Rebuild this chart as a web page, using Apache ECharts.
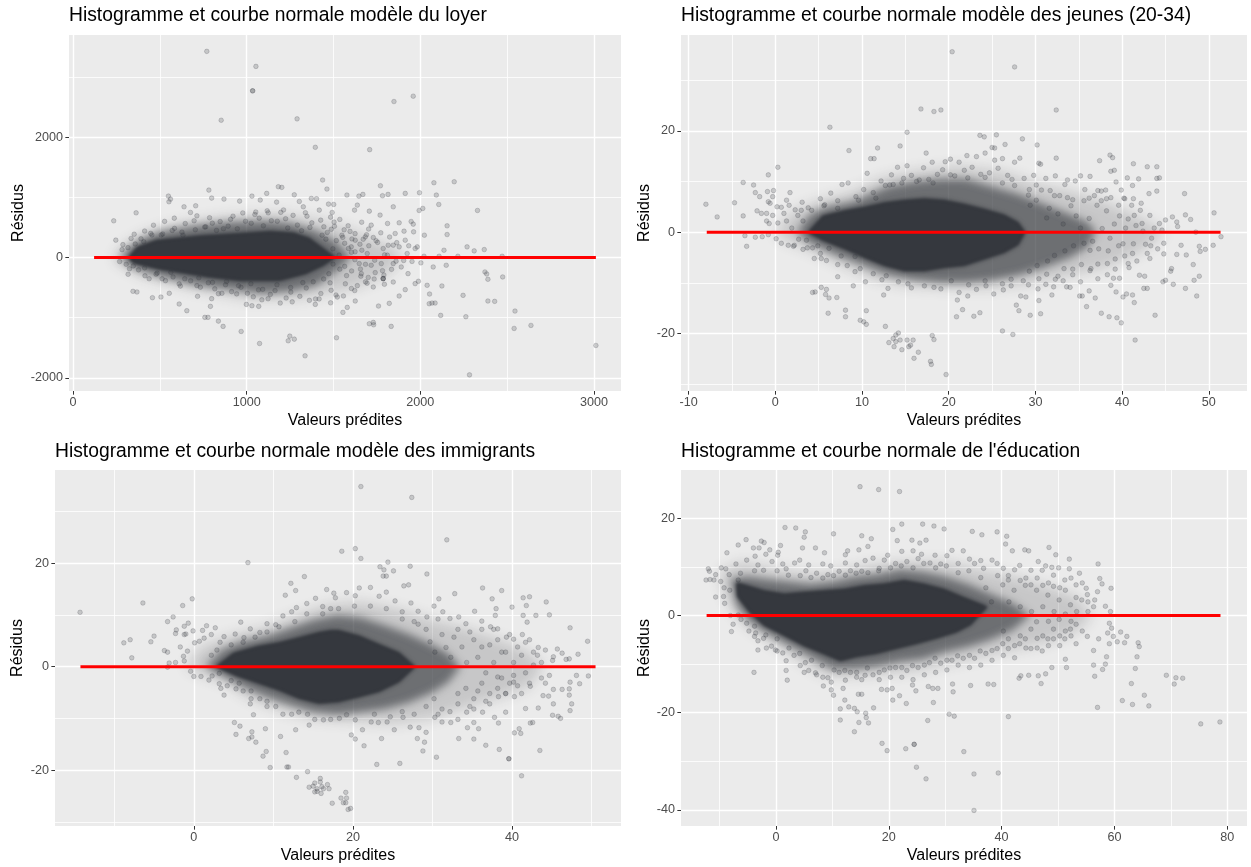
<!DOCTYPE html>
<html><head><meta charset="utf-8">
<script src="https://cdn.jsdelivr.net/npm/echarts@6/dist/echarts.min.js"></script>
<style>html,body{margin:0;padding:0;background:#fff}#c{width:1251px;height:867px}</style>
</head><body><div id="c"></div>
<script>
// Valeurs : [prédite, résidu]
const titres = ["Histogramme et courbe normale modèle du loyer","Histogramme et courbe normale modèle des jeunes (20-34)","Histogramme et courbe normale modèle des immigrants","Histogramme et courbe normale de l'éducation"];
const etiquetteX = "Valeurs prédites";
const etiquetteY = "Résidus";

const majeursX1=[0,1000,2000,3000], mineursX1=[500,1500,2500], majeursY1=[-2000,0,2000], mineursY1=[-1000,1000,3000];
const majeursX2=[-10,0,10,20,30,40,50], mineursX2=[-5,5,15,25,35,45], majeursY2=[-20,0,20], mineursY2=[-30,-10,10,30];
const majeursX3=[0,20,40], mineursX3=[-10,10,30,50], majeursY3=[-20,0,20], mineursY3=[-30,-10,10,30];
const majeursX4=[0,20,40,60,80], mineursX4=[-10,10,30,50,70], majeursY4=[-40,-20,0,20], mineursY4=[-30,-10,10];

const zero1=[121,3011], zero2=[-7.9,51.35], zero3=[-14.25,50.5], zero4=[-12.3,78.8];

const coeur1=[[320,0],[370,170],[480,285],[729,360],[959,400],[1135,435],[1270,410],[1360,320],[1440,150],[1510,0],[1440,-130],[1340,-270],[1189,-380],[959,-380],[775,-320],[499,-190],[350,-90]];
const dense1=[[270,0],[330,190],[400,320],[500,430],[700,530],[900,590],[1100,610],[1250,570],[1400,440],[1520,250],[1600,0],[1520,-220],[1400,-460],[1250,-560],[1100,-600],[900,-530],[700,-450],[500,-320],[350,-180]];
const diffus1=[[230,0],[300,200],[400,380],[600,560],[900,680],[1200,720],[1450,600],[1650,400],[1850,150],[1900,0],[1800,-300],[1600,-520],[1300,-680],[1000,-680],[700,-520],[400,-300],[280,-120]];
const points1=[[770,3428],[1053,3178],[1034,2772],[1034,2772],[853,2283],[1290,2306],[1848,2594],[1959,2683],[1395,1833],[1708,1794],[1437,1289],[2078,1244],[2195,1261],[1770,1194],[1182,1178],[1202,1167],[1462,1139],[782,1122],[1913,1067],[1995,1078],[2092,1039],[1814,1050],[1782,1028],[1115,1067],[1274,1044],[549,1022],[561,972],[552,928],[798,989],[869,972],[959,939],[1030,1022],[1078,956],[1372,983],[1402,978],[1577,1039],[1646,1022],[1669,1050],[2106,883],[1993,783],[2014,817],[2329,783],[1844,844],[639,844],[706,861],[676,750],[363,744],[234,611],[1172,922],[1303,933],[1326,844],[1471,889],[1501,883],[1637,872],[1621,789],[1706,772],[1768,706],[1492,750],[1418,789],[2154,528],[2154,383],[1947,600],[1878,578],[1959,556],[1811,567],[1717,539],[2023,372],[2269,178],[2310,111],[2368,133],[2136,122],[1982,178],[2471,22],[2216,22],[2108,22],[2021,22],[2149,-128],[2074,-156],[2372,-239],[2382,-272],[2389,-361],[2474,-322],[2246,-628],[2124,-472],[2039,-461],[2053,-606],[2051,-767],[2067,-756],[2085,-756],[2389,-722],[2428,-728],[2545,-889],[2117,-961],[2262,-983],[2637,-1128],[2540,-1178],[3011,-1461],[2283,-1950],[1336,-1633],[1517,-1333],[1274,-1356],[1248,-1306],[1239,-1383],[1074,-1428],[968,-1228],[864,-1144],[837,-1056],[759,-994],[777,-994],[655,-883],[611,-772],[457,-667],[506,-656],[554,-594],[368,-572],[345,-561],[317,-278],[791,-811],[798,-683],[837,-600],[717,-644],[998,-778],[1030,-800],[1069,-811],[1706,-1100],[1729,-1078],[1731,-1117],[1832,-1144],[1821,-761],[1759,-806],[1554,-911],[1579,-828],[1522,-656],[1625,-722],[1193,-756],[1395,-778],[1361,-711],[1878,-639],[1913,-533],[1729,-489],[1793,-444],[1970,-433],[1989,-394],[1929,-267],[1844,-406],[1637,-467],[1648,-100],[1683,344],[1729,333],[1625,289],[1786,150],[1844,206],[1878,178],[1924,67],[1970,150],[1913,289],[1906,439],[1961,428],[1855,400],[1602,178],[1694,67],[1775,-100],[1844,-100],[1890,-156],[1717,-128],[1660,-267],[1786,-350],[1786,-350],[1786,-350],
[246,290],[287,215],[334,318],[352,388],[391,312],[412,441],[447,403],[463,538],[508,376],[527,602],[571,451],[583,655],[627,423],[646,566],[697,612],[713,694],[758,508],[786,662],[802,572],[847,598],[866,480],[907,636],[921,688],[977,742],[993,604],[1047,716],[1072,655],[1118,778],[1142,612],[1196,752],[1224,646],[1267,702],[1292,540],[1347,688],[1375,578],[1426,622],[1444,512],[1487,470],[1503,590],[1548,372],[1561,462],[1606,310],[1624,398],[1652,222],[1671,305],
[268,-66],[306,-112],[325,-186],[377,-204],[414,-302],[478,-276],[513,-352],[576,-322],[611,-438],[677,-386],[713,-466],[779,-418],[816,-520],[878,-452],[913,-566],[967,-494],[1004,-594],[1068,-536],[1087,-702],[1136,-612],[1163,-548],[1227,-672],[1254,-574],[1306,-644],[1343,-506],[1396,-688],[1427,-598],[1486,-544],[1514,-622],[1568,-436],[1603,-514],[1657,-310],[1684,-404],
[282,132],[316,165],[358,226],[407,262],[454,376],[516,392],[584,486],[633,372],[704,462],[764,512],[826,452],[893,522],[946,478],[1026,570],[1096,528],[1176,604],[1236,492],[1316,446],[1364,502],[1434,372],[1464,418],[1516,282],[1553,336],[1586,152],[1624,96],[1564,238],[1496,146],[1456,306],[1532,42],[1603,88],[1663,122],[1703,196],[1754,252],[1794,46],[1737,-44],[1684,-112],[1623,-36],[1564,-146],[1497,-108],[1473,-268],[1536,-192],[1604,-222],[1443,-356],[1383,-402],[1323,-416],[1253,-498],[1174,-452],[1092,-528],[1024,-434],[953,-468],[884,-396],[803,-412],[724,-336],[643,-352],[563,-246],[484,-258],[412,-172],[347,-138],
[1212,792],[1124,744],[1052,758],[1338,746],[1483,672],[1536,634],[1584,528],[1662,588],[1702,474],[1772,412],[1823,342],[1864,248],[1933,196],[1557,-638],[1622,-548],[1693,-426],[1734,-356],[1782,-218],[1834,-196],[1904,-48],[1952,-64],[2003,-88],[1483,-752],[1417,-688],[1262,-736],[1123,-684],[1038,-652],[942,-604],[857,-594],[733,-492],[618,-474],[532,-384],[438,-352],[1505,520],[1595,435],[1690,380],[1745,280],[1815,205],[1655,-190],[1700,-330],[1740,-250],[1575,-300],[1480,-420],[1790,-290],[1860,-60],[1810,40]];

const coeur2=[[3.8,0],[5.5,3.2],[8,4.2],[10.3,4.9],[12.6,5.8],[14.9,6.3],[17.2,6.6],[19.5,6.3],[21.8,5.5],[24.1,4.5],[26.4,3.4],[28,1.9],[28.8,0],[28,-2.5],[26.4,-4],[24.1,-5.3],[21.8,-6.6],[19.5,-7],[17.2,-7.6],[14.9,-7.6],[12.6,-6.6],[10.3,-5],[8,-3.3],[5.5,-1.6]];
const dense2=[[2.5,0],[4,3.5],[6,5],[9,6],[11,7.5],[13,9],[16,10],[19,10.5],[22,10.5],[25,9],[28,7.5],[31,5.5],[34,3.5],[36,2],[37,0],[36,-3],[34,-5],[31,-7],[28,-8.5],[25,-9.5],[22,-10],[19,-10],[16,-9.5],[13,-8.5],[10,-6.5],[7,-4.5],[4,-2.2]];
const diffus2=[[0,0],[2,4],[5,6],[9,8],[12,10.5],[16,12],[21,13],[26,12],[30,9.5],[34,8],[38,6],[42,3],[45,0],[42,-4],[38,-7],[34,-8.5],[30,-10],[25,-11],[20,-11],[15,-10.5],[11,-9],[7,-6],[4,-3.5],[1,-1.5]];
const points2=[[20.4,35.6],[27.6,32.6],[16.8,24.3],[18.3,23.8],[19.1,24.1],[32.4,24.1],[6.3,20.7],[15.2,19.7],[23.6,19.1],[24.1,18.8],[25.5,19.2],[28.5,18.4],[30.2,17.2],[26.5,17.3],[25,16.7],[25.3,16.6],[14.4,17],[11.8,16.6],[8.5,16.1],[17.4,15.6],[11,14.5],[11.4,14.5],[32.4,14.6],[38.6,15.2],[38.9,14.7],[37.4,14.1],[30.4,13.6],[41.3,13.5],[42.9,12.9],[44,12.9],[38.7,12],[39.1,12.2],[41.9,10.5],[40.6,10.7],[44,10.6],[44.3,10.7],[39.3,9.9],[41.2,9.2],[47.2,7.6],[44,8.1],[43.1,7.6],[39.9,8.3],[40.3,6.6],[50.6,3.8],[47.9,2.5],[47.3,3.4],[46.3,2],[45.8,3],[45,2.4],[46.4,1.1],[48.5,0],[51.4,-0.9],[50.5,-2.6],[49.6,-3.4],[48.9,-2.8],[49,-3.8],[47.4,-4.5],[46.8,-2.6],[48.2,-6.4],[46.3,-4.4],[44.8,-4.3],[45.7,-7.2],[45.6,-7.7],[48.9,-8.7],[48.3,-9.5],[45,-9.5],[44.7,-9.8],[45.9,-10.3],[47.3,-11.1],[48.6,-12.6],[43.8,-16.4],[41.5,-21.3],[41.4,-13.9],[41.2,-12.4],[42.5,-11.1],[42.9,-11.1],[42,-8.5],[42.6,-8.7],[40.8,-7],[39.7,-9.1],[39,-9.1],[38.7,-10.5],[39.3,-11.8],[40.1,-12.8],[40.5,-12.2],[37.6,-16],[38.5,-16.7],[39.4,-16.9],[39.9,-17.9],[35.9,-14.7],[36.9,-13],[36.2,-11.6],[35.1,-12.6],[35.4,-12.6],[33.6,-10.8],[34,-10.9],[32.1,-10.8],[31.9,-12.4],[30.4,-13.5],[30.6,-16.1],[29.4,-16.4],[28.1,-15.5],[27.8,-14.4],[28.9,-12.8],[26.2,-19.5],[27.4,-20.2],[23.6,-15.9],[22.9,-16.6],[21.6,-15.3],[20.9,-16.7],[21,-13.4],[22.2,-12.6],[18.1,-20.4],[18.3,-21.2],[17.9,-25.5],[18,-26.1],[19.7,-28.1],[16.5,-23.7],[16,-24.9],[14.6,-23.2],[15.4,-22.6],[15.9,-21.3],[15.2,-21.3],[14.2,-19.9],[13.9,-20.3],[13.6,-21],[13.9,-21.6],[13.1,-21.8],[13.7,-22.6],[14.4,-21.3],[15.6,-22.3],[12.7,-18.6],[10.5,-18.2],[9.8,-17.4],[10.2,-17.7],[10.5,-15.5],[8.1,-15.4],[8.1,-16.7],[6.1,-16],[7.1,-12.9],[6.2,-13],[5.8,-12.3],[5.9,-11.3],[5.3,-10.9],[4.6,-11.8],[4.3,-11.9],[7.2,-8.8],[9,-10.6],[12.5,-12.4],[13,-11.1],
[-8,5.5],[-6.7,3],[-4.7,5.8],[-3.7,9.8],[-3.7,3.2],[-3.5,-0.7],[-3.3,-2.8],[-2.5,9.3],[-2.3,7.8],[-2.3,-1],[-1.8,7],[-1.6,3.7],[-1.5,-0.9],[-0.8,11.3],[-0.9,8],[-0.2,8.2],[-0.8,6],[-0.6,5.7],[-1,3.7],[-1,2.2],[-0.7,1.7],[-0.8,-0.5],[0.3,12.8],[-0.3,7],[0.2,5],[0.7,4.9],[0.3,1.8],[0.1,-1.3],[0.7,-2.2],[1.7,7.8],[1.3,6.3],[1,3.7],[1.5,-2.6],[2.1,-2.8],[3.7,-3.1],[4.5,-5.2],[5.2,-4.2],
[2.3,4.4],[3.1,5.9],[3.8,4.8],[5.2,6.6],[5.7,5.4],[6.4,7.7],[7.2,6.2],[7.7,9.4],[8.4,9.7],[9.3,7],[10.2,8.4],[10.6,11.6],[11.3,7.8],[12.2,10.1],[12.7,9.2],[13.4,11.3],[13.6,9.4],[14.1,12.8],[14.8,10.6],[15.2,13.1],[15.7,11.2],[16.3,10],[17.1,12.7],[17.7,10.4],[18.1,13.8],[18.7,11.4],[19.3,12.3],[19.6,13.9],[20.2,14.4],[20.7,11.1],[21.2,13.8],[21.8,12.2],[22.1,15.1],[22.7,12.8],[23.2,14.9],[23.7,11.4],[24.2,15.6],[24.7,11.7],[25.3,14.2],[25.7,12.6],[26.2,14.5],[26.8,11.2],[27.3,10.4],[27.6,13.8],[28.2,14.6],[28.7,10.6],[29.3,8.4],[29.8,11.2],[30.1,9.3],[30.6,13.4],[31.2,10.6],[31.7,8.2],[32.3,11.1],[32.8,7.2],[33.4,9.4],[33.7,10.3],[34.3,6.4],[34.6,10.1],[35.2,11.1],[35.7,8.4],[36.3,11],[36.8,7.2],[37.2,8.2],[37.6,8.1],[38.2,6.6],
[2.2,-2.6],[3.2,-3.4],[4.3,-3.1],[5.3,-5.2],[5.9,-5.6],[7.2,-6.4],[8.3,-6.6],[9.2,-7.8],[9.8,-7.2],[10.4,-9.8],[11.3,-8.2],[12.3,-9.4],[12.8,-8.6],[14.2,-9.8],[15.3,-10.2],[15.7,-11],[17.2,-10.6],[18.3,-10.9],[19.1,-11.2],[20.3,-9.6],[21.2,-11.9],[22.3,-10.4],[23.2,-11.3],[24.3,-10.6],[25.2,-12.2],[26.3,-11.4],[27.2,-10.6],[28.3,-12.6],[29.2,-10.4],[30.3,-11.2],[31.2,-10.3],[32.3,-9.3],[33.2,-9.6],[34.3,-8.4],[35.2,-9.8],[36.3,-7.6],[37.2,-9.2],[38.3,-8.4],[39.2,-7.3],
[30.1,6.3],[31.3,2.8],[32.2,7.2],[33.2,1.6],[34.1,5.2],[35.2,0.8],[35.6,6.2],[36.2,2.7],[37.1,5.3],[37.7,0.7],[38.2,4.2],[38.6,-1.2],[39.1,1.6],[39.6,5.3],[40.1,-2.3],[40.7,2.6],[41.2,-4.2],[41.6,1.3],[42.1,4.3],[42.7,-2.4],[43.2,-5.2],[43.7,0.8],[44.1,-3.3],[44.6,0.4],[39.2,-5.3],[40.3,-4.7],[37.2,-6.3],[36.3,-3.6],[35.3,-6.4],[34.4,-2.7],[33.3,-7.2],[32.2,-4.6],[31.3,-8.3],[30.2,-6.6],[41.1,5.3],[42.3,1.7],[43.2,3.3],[38.1,8.3],[40.2,6.7],[41.3,6.6],[42.2,5.7],[36.6,-1.8],[38.4,-3.7],[41.3,-2.3],[43.3,-2.7],
[29.4,5.3],[30.7,8.3],[31.6,4.7],[32.6,3.6],[33.7,6.8],[34.7,3.2],[36.2,6.7],[37.6,6.2],[38.7,6.8],[39.7,3.2],[40.4,0.8],[41.4,3.3],[42.4,0.2],[43.4,-1.2],[44.3,1.7],[44.8,-2.2],[42.9,-4.2],[41.7,-5.7],[40.7,-6.2],[39.6,-2.7],[38.3,-6.2],[37.3,-3.3],[36.4,-7.2],[35.6,-2.2],[34.3,-7.3],[33.4,-3.7],[32.6,-8.7],[31.4,-5.7],[30.4,-9.2],[29.3,-7.7],[28.6,-9.6],[27.2,-9.3],[26.2,-10.2],[24.2,-9.6],[9.2,-4.8],[7.6,-4.7],[6.2,-3.2],[4.9,-2.7],[3.6,-1.6],[3.2,2.2],[2.6,3.3],[4.2,4.3],[5.6,5.2],[7.2,4.7],[9.6,6.3],[11.6,6.7],[13.2,9.3],[14.6,9.7],[16.6,10.3],[18.2,9.7],[20.2,11.3],[22.2,10.7],[24.2,10.8],[26.2,9.7],[27.6,9.2],[29.2,7.3],[-2.1,4.2],[-0.3,3.3],[1.3,2.2],[1.9,0.8],[2.7,-1.4],[3,4.3],[1.6,5.3]];

const coeur3=[[2.8,0],[5,2.6],[8,3.9],[10.7,4.6],[13.2,5.6],[15.7,6.6],[17.2,7],[18.2,7],[20.8,5.9],[23.3,4.3],[25.8,2.7],[27.8,0],[25.8,-2.9],[23.3,-4.8],[20.8,-5.8],[18.2,-6.8],[15.7,-7.1],[13.2,-6.1],[10.7,-4.5],[8.2,-3.2],[5.5,-1.8]];
const dense3=[[1.5,0],[3.5,3.2],[6,4.8],[9,5.8],[12,7.4],[15,9],[18,10],[21,9.5],[24,8],[27,6.3],[30,4.2],[32,2.5],[33.5,0],[32,-3],[30,-5],[27,-7],[24,-8.2],[21,-8.8],[18,-9.3],[15,-8.8],[12,-7.4],[9,-5.8],[6,-3.8],[3.5,-1.7]];
const diffus3=[[-1,0],[1,4],[5,6],[9,7.5],[13,10],[17,12],[21,12.5],[26,11],[30,9],[34,7.5],[38,5.5],[42,3],[44,0],[42,-4],[38,-6],[34,-8],[30,-10],[25,-11],[20,-10.5],[15,-10],[11,-8.5],[7,-6],[4,-3],[1,-1.5]];
const points3=[[-14.3,10.5],[-8.8,4.6],[-8,5.2],[-7.8,1.7],[-6.4,12.3],[-5.4,4.8],[-5,5.9],[-3.7,3.1],[-3.3,2.8],[-3.3,8.7],[-2.6,9.6],[-1.4,11.8],[-0.2,13.1],[-2.2,7.1],[-2.3,6.4],[-1.2,7.8],[-0.7,8.4],[-1.2,6.2],[-1,6.3],[-0.1,6.9],[-3.1,0.7],[-3.3,-0.1],[-2.3,0.8],[-1.7,3.8],[-1.3,2],[-1.2,1.1],[-0.8,3],[-0.4,-0.9],[0,-1.9],[0.9,-1.9],[1.9,-2.6],[0.1,4.6],[0.7,4.9],[1.3,5.5],[1.6,7.9],[1.1,7],[2.7,7.5],[5.9,8.6],[6.8,20.1],[3.4,-4.2],[3.8,-5.5],[5.1,-10.8],[5.8,-11.5],[5.3,-13.1],[7.2,-6.2],[7.5,-9.3],[7.3,-12.6],[6.9,-13.9],[7.3,-13.6],[7.8,-14.6],[9,-12],[9.1,-16.4],[8.7,-17.3],[9.6,-19.5],[10.9,-13.5],[11.6,-16.6],[11.7,-19.4],[11.9,-19.4],[12.9,-21.4],[14.3,-20.3],[12.8,-12.2],[14.5,-11.3],[14.5,-23.3],[15,-23.1],[15.2,-22.5],[15.9,-21.6],[15.9,-22.3],[15.5,-23.6],[15.2,-24.2],[16,-24.5],[16.3,-23.6],[17,-23.6],[16.8,-22.8],[16.1,-23.2],[15.5,-24.1],[17.4,-26.4],[18.5,-25.4],[19.1,-24.3],[19.2,-25.4],[18.8,-26.3],[19.1,-26.3],[19.4,-27.6],[19.7,-27.4],[19.8,-13.2],[20.3,-14],[21.4,-15.3],[23,-18.9],[25.9,-18.7],[23.6,-13.9],[28.1,-13.9],[29,-14.6],[28.8,-16.3],[30.5,-17.5],[33.3,-13.9],[35.2,-14],[34.4,-11.8],[35.2,-10.8],[35.8,-12],[36.7,-15.2],[38.4,-16],[39.6,-17.8],[39.6,-17.8],[41.2,-21.1],[43.5,-16.2],[40.3,-12.8],[40.9,-12],[41.1,-12.9],[38.3,-10.9],[37.8,-9.8],[39.2,-8.8],[42.3,-10.9],[42.6,-10.8],[41.7,-8.1],[43.3,-8],[45.1,-9.4],[45.8,-9.6],[46.1,-10],[47.3,-8.5],[47.5,-7.2],[47.2,-5.5],[47.2,-4.3],[47.3,-3],[48.5,-3.3],[49.6,-1.8],[48.1,-1.7],[46.3,-4.4],[45.2,-4.4],[44.6,-5.7],[43.9,-5.6],[45.2,-7.2],[49.5,4.9],[48.3,2.4],[47.3,7.5],[46.3,2.6],[45.7,3.4],[45.2,1.9],[46.8,1.4],[47.2,1.5],[44.7,10],[44.3,12.5],[42.2,13.5],[41.4,13.3],[41.8,11.8],[40,11.5],[43,9.9],[41.4,9.9],[41.9,8.6],[38.7,14.7],[36.3,15.2],[37.5,13.1],[38,11.2],[37.9,9.9],[32.8,14.1],[30.8,13.1],[31.8,24.5],[27.4,32.7],[21,34.8],[20.3,22.8],[18.6,22.3],[21,20.9],[24.4,20.2],[27.2,19.4],[23.4,19.3],[23.9,18.7],[25.1,18.5],[29.3,17.9],[23.8,17.5],[24.2,17.5],[13.9,17.4],[12.2,16.1],[12.8,14.7],[11.5,13.8],[16.7,14.9],[17.6,14.2],[27,15.8],[26.4,15.6],
[2.2,6.2],[3.3,4.7],[3.8,5.8],[5.2,6.3],[6.3,5.6],[7.1,7.3],[8.3,6.6],[9.2,8.3],[10.3,8.1],[11.2,9.8],[12.3,10.6],[12.9,11.4],[14.2,12.2],[15.3,13.2],[16.2,11.6],[17.2,11.2],[17.8,13.3],[19.2,14.3],[20.3,13.7],[20.8,15.2],[22.2,15.3],[23.3,13.6],[24.2,14.4],[25.3,12.7],[26.2,10.6],[27.3,12.3],[28.2,10.7],[29.3,9.6],[30.2,11.7],[31.3,10.6],[32.2,9.3],[33.3,9.6],[34.2,8.3],[35.3,10.7],[36.2,8.8],[37.3,7.7],[38.2,7.3],[39.3,5.7],[40.2,5.3],[41.3,6.2],[42.2,5.2],[43.3,3.7],[44.2,3.2],
[2.3,-1.8],[3.2,-3.3],[4.2,-3.7],[5.3,-4.3],[6.2,-4.7],[7.1,-7.2],[8.3,-6.2],[9.2,-7.7],[10.3,-7.7],[11.2,-9.2],[12.3,-9.2],[13.2,-8.8],[14.3,-9.2],[15.2,-10.2],[16.3,-10.3],[17.2,-10.2],[18.3,-10],[19.2,-9.3],[20.3,-10.3],[21.2,-12.2],[22.3,-10.7],[23.2,-10.8],[24.3,-10.7],[25.2,-12.2],[26.3,-9.8],[27.2,-11.7],[28.3,-11.8],[29.2,-12.7],[30.3,-9.8],[31.2,-10.7],[32.3,-10.8],[33.2,-10.2],[34.3,-8.8],[35.2,-8.2],[36.3,-8.8],[37.2,-7.2],[38.3,-5.8],[39.2,-5.2],[40.3,-5.8],[41.2,-5.2],[42.3,-3.8],
[29.2,7.2],[30.3,2.8],[31.2,6.2],[32.3,1.8],[33.2,7.2],[33.7,3.8],[34.3,0.8],[35.2,5.2],[35.7,1.8],[36.2,7.2],[36.7,-1.2],[37.2,4.2],[37.7,0.8],[38.2,5.2],[38.7,-2.2],[39.2,2.8],[39.7,-3.2],[40.2,0.8],[40.7,-3.7],[41.2,2.2],[41.7,-1.2],[42.2,-3.2],[42.7,0.3],[43.2,2.2],[43.7,-2.2],[44.2,-3.2],[39.2,-5.2],[37.2,-5.2],[35.2,-6.2],[33.2,-7.2],[31.2,-8.2],[30.2,-6.2],[34.2,-4.2],[36.2,-3.2],[38.2,-4.2],[40.2,-3],[44.7,-1.7],[45.1,1.2],
[28.2,8.2],[29.7,4.8],[30.7,9.2],[31.7,3.7],[32.7,5.7],[34.7,6.7],[36.2,3.8],[37.7,7.2],[38.7,2.8],[39.7,6.2],[40.7,3.8],[41.7,4.7],[42.7,2.8],[43.7,0.8],[40.2,-1.7],[38.2,-2],[36.7,-6.7],[35.7,-4.7],[34.7,-7.7],[33.2,-5.2],[32.2,-8.7],[30.7,-9.2],[29.2,-7.7],[27.7,-9.2],[26.2,-8.7],[24.7,-9.7],[22.7,-9.2],[9.2,-6.7],[7.2,-4.7],[5.7,-3.2],[4.7,-2.7],[3.2,-1.3],[2.2,2.2],[2.9,3.2],[4.7,4.2],[6.2,4.7],[7.7,5.7],[9.2,6.7],[10.7,7.7],[12.7,8.7],[14.2,10.2],[16.2,10.2],[18.2,11.2],[20.2,11.7],[22.2,11.7],[24.2,11.2],[26.2,9.2],[27.7,8.7]];

const coeur4=[[-7,6.8],[-4.2,5.8],[-2.1,5.1],[1.5,4.4],[5,4.8],[8.6,5.1],[12.1,5.4],[15.6,6.1],[19.2,6.5],[22.7,7.2],[26.2,6.5],[29.8,5.4],[33.3,3.7],[37.5,1.8],[36,0],[34.5,-1.9],[32,-3.4],[28.4,-4.7],[24.8,-5.8],[21.3,-6.8],[17.8,-7.8],[14.2,-8.5],[11.4,-9.3],[8.6,-7.9],[5,-6.2],[1.5,-4.1],[-2.1,-2],[-4.6,0.6],[-6.8,3.9]];
const dense4=[[-8,7.5],[-5,8],[-2,7.5],[2,7],[6,6.5],[10,7],[14,8],[18,8.5],[22,9.5],[26,9],[30,8],[34,6.5],[38,4.5],[42,2.5],[45,0],[42,-3],[38,-5],[34,-6.5],[30,-7.5],[26,-9],[22,-9.5],[18,-10.5],[14,-11],[10,-11],[6,-8.5],[2,-6],[-2,-3.5],[-5,-1],[-7,2]];
const diffus4=[[-10,9],[-6,11],[-2,10],[3,9],[8,8.5],[13,9.5],[18,10.5],[24,11],[30,11],[36,9.5],[42,8],[48,6],[53,4],[56,0],[53,-3.5],[48,-5.5],[42,-7],[36,-8.5],[30,-10],[24,-11.5],[18,-12],[12,-12.5],[8,-12],[4,-9],[0,-6],[-4,-3],[-7,0],[-9,4]];
const points4=[[14.9,26.5],[18.2,25.9],[21.9,25.5],[22.3,18.8],[26,18.8],[28,18.4],[29.8,17.8],[20.7,17.7],[1.6,18.1],[3.5,18],[5.2,17.2],[5,16.1],[10.2,16.8],[15.2,16.4],[16.9,15.8],[16.3,14.2],[21.5,15.4],[24.1,15.5],[26.6,15.5],[25.5,14.9],[34.8,17.3],[36.5,16.6],[39.2,17.2],[40.9,16.3],[40.7,14.7],[41.9,13.3],[44.1,13.5],[44.8,13.3],[48.4,14],[49.6,12.5],[52,11.6],[57.1,10.6],[57.4,7.6],[57.8,6.5],[59.4,5.6],[59.3,0.8],[58.4,1.9],[55,5.6],[57,4.9],[56.5,3.2],[53.8,8.7],[52,9.6],[50.1,9.8],[48.9,9.9],[47.8,10.2],[46.5,11.1],[-5.3,15.6],[-6.7,14.5],[-8.7,12.9],[-2.6,15.3],[-2.1,15],[-4,13.9],[-3,13.9],[0.8,14.4],[-1.1,13.5],[0.4,13],[4.7,13.9],[7,13.9],[8.6,12.9],[12.7,13.3],[14.7,13.5],[12.3,12.5],[-12.4,7.3],[-11.7,7.4],[-11,7.3],[-12,9.6],[-11.8,9.1],[-10.7,8.4],[-9.7,9.8],[-8.9,9.6],[-9.8,7],[-10.7,3.8],[-9.3,3.9],[-9.1,2.5],[-8.1,0],[-7.6,-1.8],[-7.9,-3.3],[-5.2,-1.6],[-6.7,0.1],[-3.2,-7.1],[-3.9,-11.7],[-3.6,-3.6],[-1.7,-6.7],[-0.1,-7.1],[1.8,-11.3],[2,-13.3],[5,-11.7],[7,-11.8],[8.4,-14.5],[9.8,-15.3],[10.2,-16.4],[11.9,-15],[12.2,-17.4],[11.4,-19.2],[11.4,-21.5],[12.9,-18.8],[13.9,-19.1],[14.4,-19.8],[13.9,-23.9],[14.7,-22],[15.9,-20.1],[16,-21],[16.4,-22.1],[17.3,-19],[14.6,-16.2],[15.2,-16.2],[18.8,-26.3],[19.7,-27.8],[23,-27.4],[24.5,-26.5],[24.5,-26.5],[24.9,-31.2],[26.6,-33.6],[26.9,-21.6],[30.7,-20.3],[31.6,-20.7],[33.3,-28],[35.1,-32.6],[39.4,-32.4],[35.1,-40.1],[41.2,-20.8],[57,-18.9],[23.1,-18.1],[27.9,-17.9],[20.7,-17.4],[21.9,-16.5],[20.6,-15],[18.7,-15.2],[19.7,-15.3],[24.2,-14.3],[24.8,-15.5],[27,-14.6],[27.8,-15],[28.7,-15],[31.3,-14.1],[31.4,-15.7],[34.5,-14.4],[37.6,-14.1],[38.6,-14.2],[47,-14],[43.1,-12.9],[43.4,-12.4],[44.8,-12.3],[46.5,-12.4],[47.8,-12],[48.9,-10.7],[51.5,-10.7],[51.3,-9],[56.5,-12.5],[56.3,-10.2],[57.9,-11.1],[58.4,-10],[58.6,-8.5],[64,-8.5],[63.7,-10.9],[63,-14],[65.3,-16.4],[66.1,-18.6],[63.2,-18.3],[61.4,-17.5],[69.2,-12.3],[70.9,-12.8],[70.6,-14.1],[72.1,-12.9],[75.3,-22.3],[78.7,-21.9],[64.2,-5.6],[64.4,-6.4],[62.2,-4.3],[61.1,-3.4],[61.8,-5.6],[60.5,-5.4],[59.8,-4.3],[59.1,-5.8],[58.8,-3.6],[59.1,-1.6],[59.5,-2.6],
[-9.2,5.7],[-8.3,8.4],[-7.1,10.6],[-6.3,8.7],[-5.2,11.4],[-3.7,12.2],[-3.2,10.4],[-1.8,12.6],[-0.7,11.1],[0.3,12.4],[1.2,10.6],[1.8,9.6],[3.3,10.8],[4.2,11.4],[5.3,9.2],[5.8,10.4],[7.2,8.7],[8.3,10.6],[9.2,8.4],[9.7,10.2],[11.2,9.1],[12.3,10.8],[13.2,9.2],[14.3,10.4],[15.2,9.1],[15.8,11.3],[17.2,11.8],[18.3,9.7],[19.2,11.4],[19.8,12.4],[21.2,10.7],[22.3,13.2],[23.2,11.1],[24.3,13.3],[25.2,11.7],[25.8,12.6],[27.3,10.8],[28.2,12.4],[29.2,10.6],[30.3,12.3],[31.2,13.4],[32.3,10.7],[33.2,13.3],[34.3,11.6],[35.2,10.7],[36.3,11.3],[36.8,9.7],[38.3,11.4],[39.2,10.7],[40.3,9.7],[41.2,8.2],[42.3,9.4],[43.2,10.3],[44.3,7.7],[45.2,9.3],[46.3,7.7],[47.2,9.3],[48.3,6.7],[49.2,8.3],[50.3,5.7],[51.2,7.3],[52.3,7.7],[53.2,6.3],[54.3,6.7],[55.2,4.3],[56.3,1.8],
[-6.2,-0.8],[-4.8,-3.2],[-3.8,-4.3],[-3.2,-5.2],[-2.2,-4.7],[-0.8,-6.3],[0.2,-7.3],[1.2,-7.7],[1.8,-9.3],[3.2,-8.2],[4.3,-10.3],[5.2,-9.7],[5.8,-11.3],[7.2,-12.2],[8.3,-12.7],[9.2,-12.8],[9.8,-13.7],[11.2,-11.7],[12.3,-13.3],[13.2,-11.7],[14.3,-12.7],[15.2,-13.2],[15.8,-12.3],[17.2,-12.2],[18.3,-13.2],[19.2,-11.2],[20.3,-12.7],[21.2,-10.7],[22.3,-12.7],[23.2,-11.3],[24.3,-13.2],[25.2,-10.7],[26.3,-12.2],[27.2,-9.7],[28.3,-11.7],[29.2,-9.8],[30.3,-11.2],[31.2,-9.2],[32.3,-10.2],[33.2,-8.8],[34.3,-10.7],[35.2,-8.8],[36.3,-10.2],[37.2,-7.8],[38.3,-9.2],[39.2,-6.8],[40.3,-8.2],[41.2,-6.8],[42.3,-8.7],[43.2,-5.8],[44.3,-6.7],[45.2,-6.8],[46.3,-6.7],[47.2,-7.3],[48.3,-6.2],[49.2,-4.8],[50.3,-6.2],[51.2,-4.8],[52.3,-4.2],[53.2,-5.8],[54.3,-3.2],[55.2,-4.3],[56.3,-7.2],[57.2,-4.8],
[40.2,6.3],[41.3,2.8],[42.2,5.2],[43.3,1.8],[44.2,6.2],[45.3,0.8],[46.2,5.2],[47.3,1.8],[48.2,4.2],[49.3,0.8],[50.2,3.2],[51.3,0.3],[52.2,2.2],[53.3,0.8],[54.2,3.2],[55.3,0.8],[45.2,-2.8],[47.3,-4.2],[49.2,-2.8],[51.3,-3.2],[53.2,-1.8],[43.3,-4.2],[41.2,-4.8],[40.3,-3.2],[46.2,-1.3],[48.3,-1.2],[50.2,-0.8],[52.3,-1.2],
[39.3,8.2],[41.2,7.3],[43.3,7.2],[45.2,6.3],[47.3,6.2],[49.2,6],[51.3,5.2],[53.2,3.7],[55.3,2.8],[52.2,-2.8],[50.3,-4.2],[48.2,-4.8],[46.3,-4.7],[44.2,-4.8],[42.3,-6.2],[40.2,-5.8],[38.3,-7.2],[36.2,-7.3],[34.3,-8.2],[32.2,-8.3],[30.3,-9.2],[28.2,-8.8],[26.3,-10.2],[24.2,-10.3],[22.3,-10.7],[20.2,-10.8],[18.3,-11.7],[16.2,-10.8],[14.3,-11.7],[12.2,-11.3],[10.3,-11.2],[8.2,-10.3],[6.3,-9.2],[4.2,-7.8],[2.3,-6.7],[0.2,-4.8],[-1.8,-4],[-3.8,-2.2],[-8.2,5.2],[-6.7,7.3],[-3.8,9.2],[-2.2,9.3],[0.2,9.2],[2.2,8.3],[4.3,8.2],[6.2,7.8],[8.3,7.7],[10.2,8.2],[12.3,8.3],[14.2,8.7],[16.3,8.8],[18.2,9.2],[20.3,9.8],[22.2,10.2],[24.3,9.8],[26.2,10.7],[28.3,9.8],[30.2,10.2],[32.3,8.8],[34.2,9.2],[36.3,7.8],[37.2,5.7],[38.2,2.8]];

const panneaux=[
 {titre:titres[0],x:69,y:35,w:552,h:356,xMin:-23.5,xMax:3155.5,yMin:-2218,yMax:3700,mx:majeursX1,nx:mineursX1,my:majeursY1,ny:mineursY1,z:zero1,c:coeur1,d:dense1,f:diffus1,p:points1,tTop:6,gy:39},
 {titre:titres[1],x:681,y:35,w:566,h:356,xMin:-10.87,xMax:54.4,yMin:-31.35,yMax:38.9,mx:majeursX2,nx:mineursX2,my:majeursY2,ny:mineursY2,z:zero2,c:coeur2,d:dense2,f:diffus2,p:points2,tTop:6,gy:27},
 {titre:titres[2],x:55,y:470,w:566,h:356,xMin:-17.45,xMax:53.7,yMin:-30.8,yMax:38,mx:majeursX3,nx:mineursX3,my:majeursY3,ny:mineursY3,z:zero3,c:coeur3,d:dense3,f:diffus3,p:points3,tTop:442,gy:29},
 {titre:titres[3],x:681,y:470,w:566,h:356,xMin:-16.84,xMax:83.5,yMin:-43.3,yMax:29.93,mx:majeursX4,nx:mineursX4,my:majeursY4,ny:mineursY4,z:zero4,c:coeur4,d:dense4,f:diffus4,p:points4,tTop:442,gy:27}];

const BASE='53,56,62';
const DECALAGE=3000;
const option={animation:false,backgroundColor:'#fff',title:[],grid:[],xAxis:[],yAxis:[],series:[]};
panneaux.forEach((p,i)=>{
  const ax=i*2, ay=i*2;
  option.title.push({text:p.titre,left:p.x,top:p.tTop,textStyle:{fontFamily:'Liberation Sans',fontSize:19.3,fontWeight:'normal',color:'#000'},padding:0});
  option.grid.push({left:p.x,top:p.y,width:p.w,height:p.h,backgroundColor:'#EBEBEB',show:true,borderWidth:0});
  const lab={show:true,color:'#4D4D4D',fontSize:12.6,fontFamily:'Liberation Sans',formatter:v=>String(v)};
  const major={type:'solid',color:'#fff',width:1.4};
  const nameStyle={fontFamily:'Liberation Sans',fontSize:16,color:'#000'};
  option.xAxis.push({type:'value',gridIndex:i,min:p.xMin,max:p.xMax,position:'bottom',name:etiquetteX,nameLocation:'middle',nameGap:22,nameTextStyle:nameStyle,
    axisLine:{show:false,onZero:false},axisTick:{show:true,length:3.65,customValues:p.mx,lineStyle:{color:'#333',width:1}},
    axisLabel:{...lab,margin:5,customValues:p.mx,hideOverlap:false,showMinLabel:true,showMaxLabel:true},splitLine:{show:true,lineStyle:major}});
  option.xAxis.push({type:'value',gridIndex:i,min:p.xMin,max:p.xMax,position:'top',axisLine:{show:false,onZero:false},axisTick:{show:false,customValues:p.nx},axisLabel:{show:false,customValues:p.nx},splitLine:{show:true,lineStyle:{color:'#fff',width:0.8}}});
  option.yAxis.push({type:'value',gridIndex:i,min:p.yMin,max:p.yMax,position:'left',name:etiquetteY,nameLocation:'middle',nameRotate:90,nameGap:p.gy,nameTextStyle:nameStyle,
    axisLine:{show:false,onZero:false},axisTick:{show:true,length:3.65,customValues:p.my,lineStyle:{color:'#333',width:1}},
    axisLabel:{...lab,margin:6,customValues:p.my,hideOverlap:false,showMinLabel:true,showMaxLabel:true},splitLine:{show:true,lineStyle:major}});
  option.yAxis.push({type:'value',gridIndex:i,min:p.yMin,max:p.yMax,position:'right',axisLine:{show:false,onZero:false},axisTick:{show:false,customValues:p.ny},axisLabel:{show:false,customValues:p.ny},splitLine:{show:true,lineStyle:{color:'#fff',width:0.8}}});
  const flou=(env,alpha,blur,z)=>({type:'custom',xAxisIndex:ax,yAxisIndex:ay,z:z,silent:true,clip:true,data:[[env[0][0],env[0][1]]],
    renderItem:(params,api)=>({type:'polygon',shape:{points:env.map(e=>{const c=api.coord(e);return [c[0]-DECALAGE,c[1]];})},
      style:{fill:'#000',shadowColor:`rgba(${BASE},${alpha})`,shadowBlur:blur,shadowOffsetX:DECALAGE}})});
  option.series.push(flou(p.f,0.2,14,2));
  option.series.push(flou(p.d,0.62,9,3));
  option.series.push({type:'scatter',xAxisIndex:ax,yAxisIndex:ay,z:4,silent:true,data:p.p,symbol:'circle',symbolSize:4.6,
    itemStyle:{color:`rgba(${BASE},0.26)`,borderColor:`rgba(${BASE},0.26)`,borderWidth:1}});
  option.series.push(flou(p.c,1,5,5));
  option.series.push(flou(p.c,1,3,5));
  option.series.push({type:'line',xAxisIndex:ax,yAxisIndex:ay,z:6,silent:true,symbol:'none',data:[[p.z[0],0],[p.z[1],0]],lineStyle:{color:'#FF0000',width:3}});
});
echarts.init(document.getElementById('c'),null,{renderer:'canvas'}).setOption(option);
</script></body></html>
